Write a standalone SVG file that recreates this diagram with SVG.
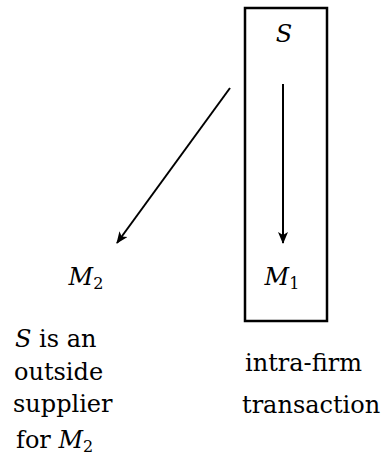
<svg xmlns="http://www.w3.org/2000/svg" width="387" height="464" viewBox="0 0 387 464">
<style>
.t{font-family:"DejaVu Serif","Liberation Serif",serif;font-size:24px;fill:#000}
.m{font-style:italic}
.s{font-size:16px;font-style:normal}
.e{stroke:#000;stroke-width:2;fill:none}
</style>
<defs>
<marker id="ah" viewBox="0 0 12 10" refX="11" refY="5" markerWidth="13" markerHeight="10" orient="auto" markerUnits="userSpaceOnUse">
<path d="M0,0 L12,5 L0,10 L3,5 z" fill="#000"/>
</marker>
</defs>
<rect width="387" height="464" fill="#fff"/>
<g id="firm">
<rect x="245" y="8" width="82" height="313" fill="none" stroke="#000" stroke-width="2.5"/>
</g>
<g id="S"><text class="t m" x="284" y="42" text-anchor="middle">S</text></g>
<g id="M1"><text class="t" x="282" y="285" text-anchor="middle"><tspan class="m">M</tspan><tspan class="s" dy="4">1</tspan></text></g>
<g id="M2"><text class="t" x="86" y="285" text-anchor="middle"><tspan class="m">M</tspan><tspan class="s" dy="4">2</tspan></text></g>
<g id="connectors">
<line class="e" x1="283" y1="84" x2="283" y2="243" marker-end="url(#ah)"/>
<line class="e" x1="230" y1="88" x2="117" y2="243" marker-end="url(#ah)"/>
</g>
<g id="note-left">
<text class="t" x="15" y="347"><tspan class="m">S</tspan> is an</text>
<text class="t" x="14" y="380">outside</text>
<text class="t" x="13" y="412">supplier</text>
<text class="t" x="16" y="448">for <tspan class="m">M</tspan><tspan class="s" dy="4">2</tspan></text>
</g>
<g id="note-right">
<text class="t" x="245" y="371">intra-firm</text>
<text class="t" x="242" y="413">transaction</text>
</g>
</svg>
